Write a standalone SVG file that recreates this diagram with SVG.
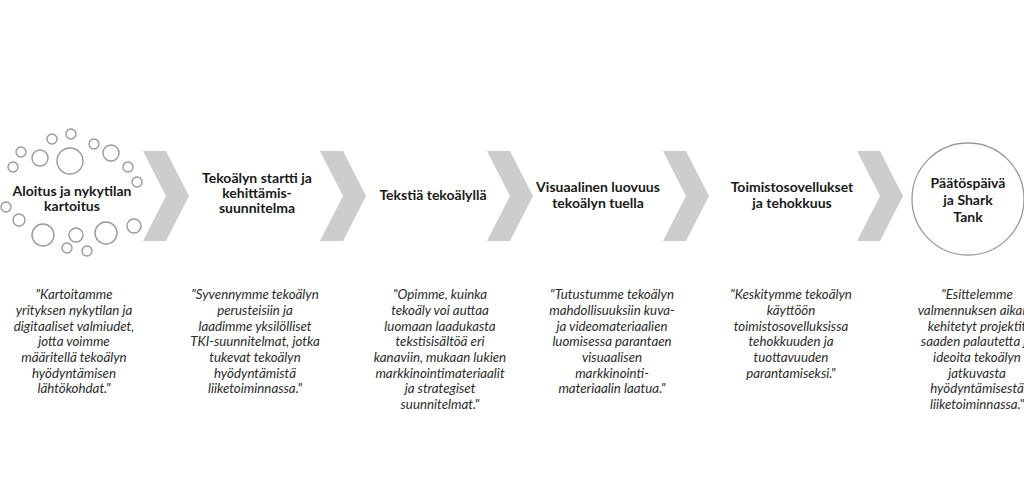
<svg xmlns="http://www.w3.org/2000/svg" width="1024" height="478" viewBox="0 0 1024 478">
<defs>
<style>
.bg{fill:#ffffff}
.chev{fill:#cdcdcd}
.dot{fill:none;stroke:#9a9a9a;stroke-width:1.4}
.ring{fill:#ffffff;stroke:#9a9a9a;stroke-width:1.3}
.h{font-family:Lato,"Liberation Sans",sans-serif;font-weight:bold;font-size:14px;fill:#1a1a1a;text-anchor:middle}
.q{font-family:Lato,"Liberation Sans",sans-serif;font-style:italic;font-size:13.3px;fill:#2b2b2b;text-anchor:middle}
</style>
<path id="chevShape" d="M0,0 L23,0 L46,45 L23,90 L0,90 L23,45 Z"/>
</defs>
<rect class="bg" x="0" y="0" width="1024" height="478"/>

<g id="connectors">
<use href="#chevShape" class="chev" x="143" y="151"/>
<use href="#chevShape" class="chev" x="320" y="151"/>
<use href="#chevShape" class="chev" x="487" y="151"/>
<use href="#chevShape" class="chev" x="663" y="151"/>
<use href="#chevShape" class="chev" x="857" y="151"/>
</g>

<g id="node1">
<circle class="dot" cx="71" cy="134" r="5"/>
<circle class="dot" cx="52" cy="139" r="5"/>
<circle class="dot" cx="94" cy="144" r="5"/>
<circle class="dot" cx="21" cy="152" r="5"/>
<circle class="dot" cx="40" cy="158" r="8"/>
<circle class="dot" cx="70" cy="161" r="13"/>
<circle class="dot" cx="111" cy="153" r="8"/>
<circle class="dot" cx="13" cy="167" r="5"/>
<circle class="dot" cx="128" cy="167" r="5"/>
<circle class="dot" cx="137" cy="182" r="5"/>
<circle class="dot" cx="6" cy="207" r="5"/>
<circle class="dot" cx="19" cy="220" r="6"/>
<circle class="dot" cx="43" cy="235" r="11"/>
<circle class="dot" cx="76" cy="235" r="7"/>
<circle class="dot" cx="106" cy="233" r="11"/>
<circle class="dot" cx="134" cy="226" r="7"/>
<circle class="dot" cx="67" cy="248" r="5"/>
<circle class="dot" cx="87" cy="251" r="5"/>
<text class="h" x="72" y="196">Aloitus ja nykytilan</text>
<text class="h" x="72" y="211">kartoitus</text>
<text class="q" x="74"><tspan x="74" y="299">"Kartoitamme</tspan><tspan x="74" y="315">yrityksen nykytilan ja</tspan><tspan x="74" y="331">digitaaliset valmiudet,</tspan><tspan x="74" y="346">jotta voimme</tspan><tspan x="74" y="362">määritellä tekoälyn</tspan><tspan x="74" y="378">hyödyntämisen</tspan><tspan x="74" y="393">lähtökohdat."</tspan></text>
</g>

<g id="node2">
<text class="h" x="257" y="183">Tekoälyn startti ja</text>
<text class="h" x="257" y="198">kehittämis-</text>
<text class="h" x="257" y="213">suunnitelma</text>
<text class="q" x="255"><tspan x="255" y="299">"Syvennymme tekoälyn</tspan><tspan x="255" y="315">perusteisiin ja</tspan><tspan x="255" y="331">laadimme yksilölliset</tspan><tspan x="255" y="346">TKI-suunnitelmat, jotka</tspan><tspan x="255" y="362">tukevat tekoälyn</tspan><tspan x="255" y="378">hyödyntämistä</tspan><tspan x="255" y="393">liiketoiminnassa."</tspan></text>
</g>

<g id="node3">
<text class="h" x="433" y="200">Tekstiä tekoälyllä</text>
<text class="q" x="440"><tspan x="440" y="299">"Opimme, kuinka</tspan><tspan x="440" y="315">tekoäly voi auttaa</tspan><tspan x="440" y="331">luomaan laadukasta</tspan><tspan x="440" y="346">tekstisisältöä eri</tspan><tspan x="440" y="362">kanaviin, mukaan lukien</tspan><tspan x="440" y="378">markkinointimateriaalit</tspan><tspan x="440" y="393">ja strategiset</tspan><tspan x="440" y="409">suunnitelmat."</tspan></text>
</g>

<g id="node4">
<text class="h" x="598" y="192">Visuaalinen luovuus</text>
<text class="h" x="598" y="208">tekoälyn tuella</text>
<text class="q" x="612"><tspan x="612" y="299">"Tutustumme tekoälyn</tspan><tspan x="612" y="315">mahdollisuuksiin kuva-</tspan><tspan x="612" y="331">ja videomateriaalien</tspan><tspan x="612" y="346">luomisessa parantaen</tspan><tspan x="612" y="362">visuaalisen</tspan><tspan x="612" y="378">markkinointi-</tspan><tspan x="612" y="393">materiaalin laatua."</tspan></text>
</g>

<g id="node5">
<text class="h" x="792" y="192">Toimistosovellukset</text>
<text class="h" x="792" y="208">ja tehokkuus</text>
<text class="q" x="791"><tspan x="791" y="299">"Keskitymme tekoälyn</tspan><tspan x="791" y="315">käyttöön</tspan><tspan x="791" y="331">toimistosovelluksissa</tspan><tspan x="791" y="346">tehokkuuden ja</tspan><tspan x="791" y="362">tuottavuuden</tspan><tspan x="791" y="378">parantamiseksi."</tspan></text>
</g>

<g id="node6">
<circle class="ring" cx="968" cy="199" r="56"/>
<text class="h" x="968" y="188">Päätöspäivä</text>
<text class="h" x="968" y="205">ja Shark</text>
<text class="h" x="968" y="222">Tank</text>
<text class="q" x="977"><tspan x="977" y="299">"Esittelemme</tspan><tspan x="977" y="315">valmennuksen aikana</tspan><tspan x="977" y="331">kehitetyt projektit</tspan><tspan x="977" y="346">saaden palautetta ja</tspan><tspan x="977" y="362">ideoita tekoälyn</tspan><tspan x="977" y="378">jatkuvasta</tspan><tspan x="977" y="393">hyödyntämisestä</tspan><tspan x="977" y="409">liiketoiminnassa."</tspan></text>
</g>
</svg>
